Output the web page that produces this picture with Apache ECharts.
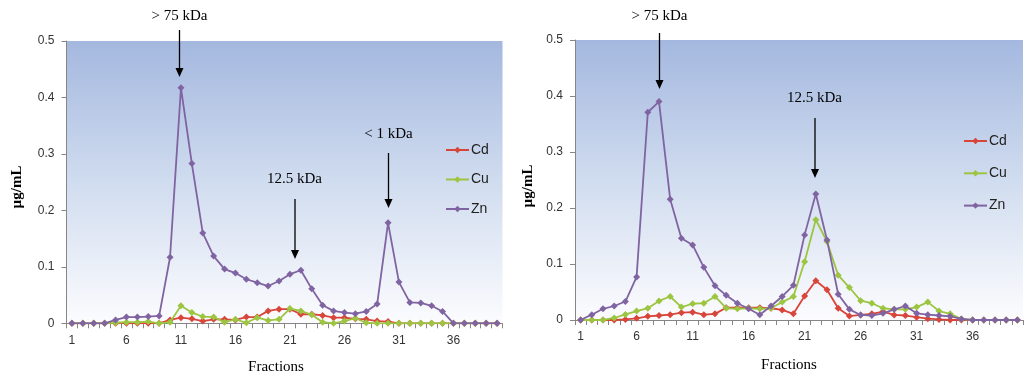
<!DOCTYPE html>
<html><head><meta charset="utf-8">
<script src="https://cdn.jsdelivr.net/npm/echarts@6/dist/echarts.min.js"></script>
<style>html,body{margin:0;padding:0;background:#fff}#c{width:1024px;height:379px}</style>
</head><body><div id="c"></div>
<script>
const fractions = ['1','2','3','4','5','6','7','8','9','10','11','12','13','14','15','16','17','18','19','20',
  '21','22','23','24','25','26','27','28','29','30','31','32','33','34','35','36','37','38','39','40'];
const yTicks = [0, 0.1, 0.2, 0.3, 0.4, 0.5];

const leftCd = [0,0,0,0,0, 0,0,0,0,0.006, 0.010,0.008,0.004,0.007,0.007, 0.006,0.011,0.011,0.022,0.025,
  0.025,0.016,0.016,0.014,0.010, 0.010,0.008,0.007,0.004,0.003, 0,0,0,0,0, 0,0,0,0,0];
const leftCu = [0,0,0,0,0.001, 0.002,0.002,0.003,0,0.002, 0.031,0.019,0.012,0.011,0.002, 0.007,0.001,0.010,0.005,0.007,
  0.026,0.022,0.015,0.002,0, 0.004,0.009,0.001,0,0, 0,0,0,0,0, 0,0,0,0,0];
const leftZn = [0,0,0,0,0.006, 0.011,0.011,0.012,0.013,0.117, 0.417,0.283,0.160,0.119,0.096, 0.089,0.078,0.072,0.066,0.075,
  0.087,0.094,0.061,0.032,0.022, 0.019,0.017,0.021,0.034,0.178, 0.073,0.037,0.036,0.031,0.021, 0,0,0,0,0];

const rightCd = [0,0,0,0,0.001, 0.003,0.0065,0.008,0.0095,0.013, 0.014,0.0095,0.011,0.022,0.022, 0.022,0.022,0.021,0.018,0.011,
  0.043,0.070,0.054,0.021,0.007, 0.009,0.011,0.015,0.009,0.008, 0.005,0.0024,0.001,0,0, 0,0,0,0,0];
const rightCu = [0,0,0,0.0036,0.010, 0.016,0.021,0.034,0.042,0.023, 0.029,0.030,0.042,0.021,0.020, 0.021,0.020,0.021,0.032,0.042,
  0.104,0.179,0.140,0.080,0.058, 0.0345,0.030,0.021,0.019,0.019, 0.023,0.032,0.016,0.011,0.002, 0,0,0,0,0];
const rightZn = [0,0.0095,0.020,0.025,0.033, 0.077,0.371,0.390,0.2155,0.146, 0.134,0.094,0.061,0.044,0.030, 0.020,0.0095,0.025,0.042,0.062,
  0.152,0.225,0.143,0.046,0.019, 0.009,0.008,0.012,0.019,0.025, 0.012,0.0095,0.008,0.0065,0.002, 0,0,0,0,0];

const seriesNames = ['Cd','Cu','Zn'];
const colors = {Cd:'#d8453a', Cu:'#9cc541', Zn:'#8064a2'};

const chart = echarts.init(document.getElementById('c'), null, {renderer:'canvas'});
const bg = new echarts.graphic.LinearGradient(0,0,0,1,[
  {offset:0,color:'#a4b8df'},{offset:0.5,color:'#d0dcef'},{offset:1,color:'#fcfcfe'}]);

function xAx(gi){
  return {type:'category', gridIndex:gi, data:fractions, boundaryGap:true,
    axisLine:{lineStyle:{color:'#868686',width:1}},
    axisTick:{show:true, interval:0, length:5, lineStyle:{color:'#868686'}},
    axisLabel:{interval:4, margin:11, color:'#333', fontFamily:'Liberation Sans', fontSize:12},
    splitLine:{show:false}};
}
function yAx(gi){
  return {type:'value', gridIndex:gi, min:0, max:0.5, interval:0.1,
    axisLine:{show:true, lineStyle:{color:'#868686',width:1}},
    axisTick:{show:true, length:5, lineStyle:{color:'#868686'}},
    axisLabel:{margin:12, color:'#333', fontFamily:'Liberation Sans', fontSize:12,
      formatter:v=>String(+v.toFixed(1))},
    splitLine:{show:false}};
}
function mk(name, data, gi){
  return {name, type:'line', xAxisIndex:gi, yAxisIndex:gi, data,
    symbol:'diamond', symbolSize:7, showSymbol:true,
    lineStyle:{color:colors[name], width:1.8},
    itemStyle:{color:colors[name]}, z: 2 + seriesNames.indexOf(name), animation:false};
}
function arrow(x, y1, y2){
  return [
    {type:'line', shape:{x1:x,y1:y1,x2:x,y2:y2-8}, style:{stroke:'#000', lineWidth:1.3}, z:100},
    {type:'polygon', shape:{points:[[x-4,y2-9],[x+4,y2-9],[x,y2]]}, style:{fill:'#000'}, z:100}
  ];
}
function label(text, x, y){
  return {type:'text', x:x, y:y, z:100, style:{text:text, fill:'#000', font:'15px "Liberation Serif"', align:'center', verticalAlign:'middle'}};
}
const serifTitle = (text,x,y,rot,bold)=>({type:'text', x:x, y:y, rotation:rot, z:100,
  style:{text:text, fill:'#000', font:(bold?'bold ':'')+'15px "Liberation Serif"', align:'center', verticalAlign:'middle'}});

const graphics = [].concat(
  label('> 75 kDa', 179.5, 16), arrow(179.5, 30, 77),
  label('12.5 kDa', 294.5, 179), arrow(295, 199, 259),
  label('< 1 kDa', 388.5, 134), arrow(388.5, 153, 208),
  label('> 75 kDa', 659.5, 16), arrow(659.5, 33, 89),
  label('12.5 kDa', 814.5, 98), arrow(815, 118, 178),
  serifTitle('µg/mL', 17, 187, Math.PI/2, true),
  serifTitle('µg/mL', 528, 186, Math.PI/2, true),
  serifTitle('Fractions', 276, 367, 0, false),
  serifTitle('Fractions', 789, 365, 0, false)
);

const legendCommon = {orient:'vertical', data:seriesNames, itemWidth:23, itemHeight:8,
  textStyle:{fontFamily:'Liberation Sans', fontSize:14, color:'#222', padding:[0,0,0,-3]}, selectedMode:false};

chart.setOption({
  animation:false,
  backgroundColor:'#fff',
  grid:[
    {left:66.5, top:41, width:436, height:282.3, show:true, backgroundColor:bg, borderWidth:0},
    {left:575, top:40, width:448, height:280, show:true, backgroundColor:bg, borderWidth:0}
  ],
  xAxis:[xAx(0), xAx(1)],
  yAxis:[yAx(0), yAx(1)],
  legend:[
    Object.assign({}, legendCommon, {left:440, top:138, itemGap:15.5}),
    Object.assign({}, legendCommon, {left:958, top:129, itemGap:18.3})
  ],
  series:[
    mk('Cd', leftCd, 0), mk('Cu', leftCu, 0), mk('Zn', leftZn, 0),
    mk('Cd', rightCd, 1), mk('Cu', rightCu, 1), mk('Zn', rightZn, 1)
  ],
  graphic: graphics
});
</script></body></html>
